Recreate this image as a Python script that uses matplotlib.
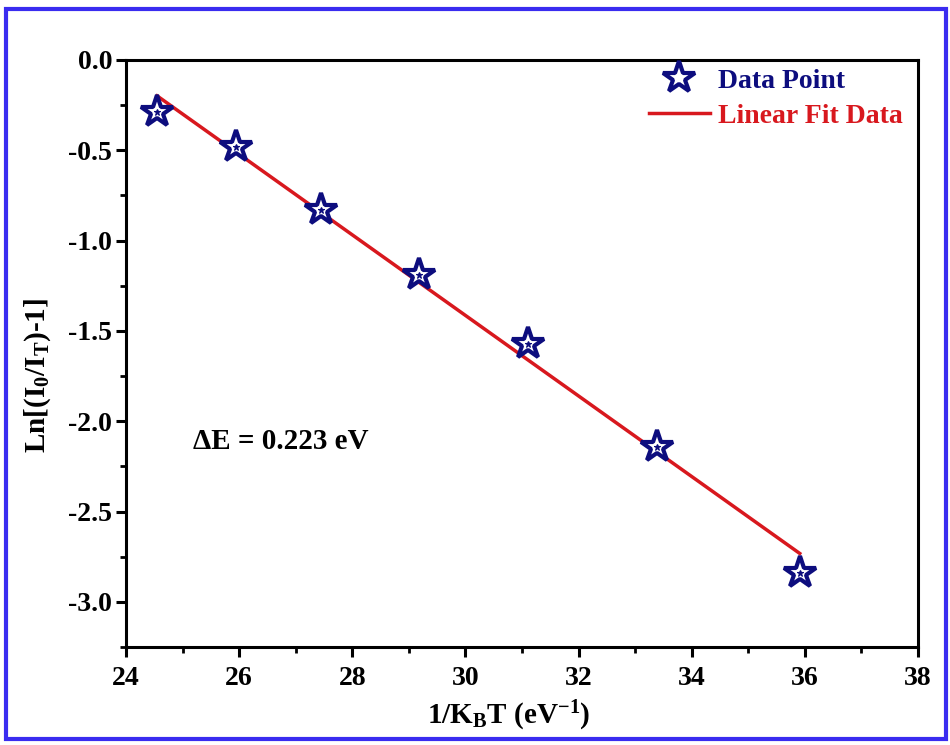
import numpy as np
import matplotlib
matplotlib.use("Agg")
import matplotlib.pyplot as plt
from matplotlib.patches import Rectangle

# Measured points: ln[(I0/IT)-1] against 1/(kB*T)
inv_kT = [24.55, 25.94, 27.45, 29.18, 31.11, 33.38, 35.91]
ln_ratio = [-0.29, -0.48, -0.83, -1.19, -1.575, -2.14, -2.84]

# Activation energy from the fitted slope (eV)
delta_E = 0.223

x_ticks = [24, 26, 28, 30, 32, 34, 36, 38]
y_ticks = [0.0, -0.5, -1.0, -1.5, -2.0, -2.5, -3.0]

navy = "#0d0d7e"
red = "#d8181e"
frame_blue = "#3a2cf0"

plt.rcParams.update({
    "font.family": ["Liberation Serif", "DejaVu Serif"],
    "font.weight": "bold",
    "mathtext.fontset": "custom",
    "mathtext.rm": "Liberation Serif:bold",
    "mathtext.it": "Liberation Serif:bold",
    "mathtext.bf": "Liberation Serif:bold",
    "mathtext.default": "regular",
})

fig = plt.figure(figsize=(9.5, 7.45), dpi=100)
ax = fig.add_axes([0.1326, 0.1315, 0.8337, 0.788])

x = np.array(inv_kT)
y = np.array(ln_ratio)

# Straight line with slope -delta_E through the centroid of the points
x_fit = np.array([x.min(), x.max()])
y_fit = y.mean() - delta_E * (x_fit - x.mean())

ax.plot(x_fit, y_fit, color=red, lw=2.5, label="Linear Fit Data", zorder=2)
ax.plot(x, y, ls="none", marker="*", ms=24, mfc="white", mec=navy, mew=3.0,
        color=navy, label="Data Point", zorder=3)
ax.plot(x, y, ls="none", marker="*", ms=5, mfc=navy, mec=navy, mew=0.8,
        zorder=4)

ax.set_xlim(24, 38)
ax.set_ylim(-3.25, 0.0)
ax.set_xticks(x_ticks)
ax.set_yticks(y_ticks)
ax.set_xticks(np.arange(25, 38, 2), minor=True)
ax.set_yticks(np.arange(-3.25, 0, 0.5), minor=True)
ax.set_xticklabels([str(t) for t in x_ticks])
ax.set_yticklabels([f"{t:.1f}" for t in y_ticks])

for side in ["left", "bottom", "right", "top"]:
    ax.spines[side].set_linewidth(2.2)
ax.tick_params(which="major", direction="out", length=7, width=2.2,
               labelsize=20)
ax.tick_params(axis="x", which="major", pad=7)
ax.tick_params(axis="y", which="major", pad=3)
ax.tick_params(which="minor", direction="out", length=4.5, width=2.0)
for lab in ax.get_xticklabels() + ax.get_yticklabels():
    lab.set_fontweight("bold")

ax.set_xlabel("1/K$_B$T (eV$^{-1}$)", fontsize=21, fontweight="bold")
ax.set_ylabel("Ln[(I$_0$/I$_T$)-1]", fontsize=21, fontweight="bold")
ax.xaxis.set_label_coords(0.4836, -0.088)
ax.yaxis.set_label_coords(-0.092, 0.463)

ax.text(25.18, -2.11, "ΔE = 0.223 eV", fontsize=21, fontweight="bold",
        color="black", ha="left", va="center")

handles, labels = ax.get_legend_handles_labels()
order = [1, 0]
leg = ax.legend([handles[i] for i in order], [labels[i] for i in order],
                loc="upper right", bbox_to_anchor=(1.0, 1.012), frameon=False,
                handlelength=2.2, handletextpad=0.3, labelspacing=0.35,
                borderaxespad=0.15, labelcolor="linecolor",
                prop={"weight": "bold", "size": 20})

fig.patches.append(Rectangle((0.0063, 0.008), 0.9895, 0.980,
                             transform=fig.transFigure, fill=False,
                             edgecolor=frame_blue, lw=3.0, zorder=10))

fig.savefig("out.png", dpi=100, facecolor="white")
